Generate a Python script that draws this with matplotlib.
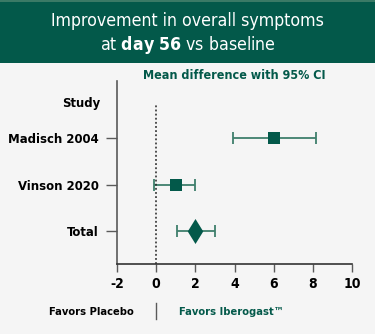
import matplotlib.pyplot as plt
from matplotlib.patches import Rectangle

# data
estudos = ['Madisch 2004', 'Vinson 2020', 'Total']
media = [6.0, 1.0, 2.0]
ic_baixo = [3.9, -0.1, 1.05]
ic_alto = [8.15, 2.0, 3.0]
posicoes = [2, 1, 0]
ticks_x = [-2, 0, 2, 4, 6, 8, 10]

verde = '#03594a'
verde_claro = '#3f7f6c'
cinza = '#5a5a5a'
fundo = '#f5f5f5'

plt.rcParams['font.family'] = ['DejaVu Sans']
plt.rcParams['font.stretch'] = 'condensed'

fig = plt.figure(figsize=(3.75, 3.34), dpi=100)
fig.patch.set_facecolor(fundo)

# faixa do titulo
fig.patches.append(Rectangle((0, 1 - 63 / 334), 1, 63 / 334, transform=fig.transFigure,
                             facecolor=verde, edgecolor='none', zorder=0))
fig.patches.append(Rectangle((0, 1 - 2 / 334), 1, 2 / 334, transform=fig.transFigure,
                             facecolor='#3a7a66', edgecolor='none', zorder=1))
fig.text(0.5, 1 - 21 / 334, 'Improvement in overall symptoms', color='white',
         ha='center', va='center', fontsize=12.7)
fig.text(0.5, 1 - 45 / 334, r'at $\bf{day\ 56}$ vs baseline', color='white',
         ha='center', va='center', fontsize=12.7)

ax = fig.add_axes([117 / 375, 1 - 264 / 334, 235 / 375, 183 / 334])
ax.set_facecolor(fundo)

losango = [(-0.62, 0), (0, 1), (0.62, 0), (0, -1), (-0.62, 0)]

for i in range(len(estudos)):
    y = posicoes[i]
    ax.errorbar(media[i], y, xerr=[[media[i] - ic_baixo[i]], [ic_alto[i] - media[i]]],
                fmt='none', ecolor=verde_claro, elinewidth=1.3, capsize=4.5, capthick=1.3)
    if estudos[i] == 'Total':
        ax.plot(media[i], y, marker=losango, markersize=18, color=verde, markeredgewidth=0)
    else:
        ax.plot(media[i], y, marker='s', markersize=9, color=verde, markeredgewidth=0)

ax.plot([0, 0], [-0.71, 2.71], linestyle=(0, (1.2, 1.5)), color='#222222', linewidth=1.1)

ax.set_xlim(-2, 10)
ax.set_ylim(-0.71, 3.23)
ax.set_xticks(ticks_x)
ax.set_xticklabels([str(t) for t in ticks_x], fontweight='bold', fontsize=10)
ax.set_yticks(posicoes)
ax.set_yticklabels(estudos, fontweight='bold', fontsize=9.4)

ax.spines['top'].set_visible(False)
ax.spines['right'].set_visible(False)
ax.spines['left'].set_color(cinza)
ax.spines['bottom'].set_color('#333333')
ax.spines['left'].set_linewidth(1.2)
ax.spines['bottom'].set_linewidth(1.2)
ax.tick_params(axis='y', length=8, width=1, color=cinza, pad=5)
ax.tick_params(axis='x', length=6, width=1, color=cinza, pad=3)

ax.text(-17 / 235, 2.75, 'Study', transform=ax.get_yaxis_transform(), ha='right', va='center',
        fontweight='bold', fontsize=9.4)
ax.text(4, 3.35, 'Mean difference with 95% CI', ha='center', va='center',
        fontweight='bold', fontsize=9, color=verde, clip_on=False)

fig.text(134 / 375, 1 - 312 / 334, 'Favors Placebo', ha='right', va='center',
         fontweight='bold', fontsize=8)
fig.text(179 / 375, 1 - 312 / 334, 'Favors Iberogast\u2122', ha='left', va='center',
         fontweight='bold', fontsize=8, color=verde)
fig.lines.append(plt.Line2D([156 / 375, 156 / 375], [1 - 303 / 334, 1 - 319 / 334],
                            transform=fig.transFigure, color=cinza, linewidth=1))

plt.savefig('out.png', dpi=100, facecolor=fundo)
